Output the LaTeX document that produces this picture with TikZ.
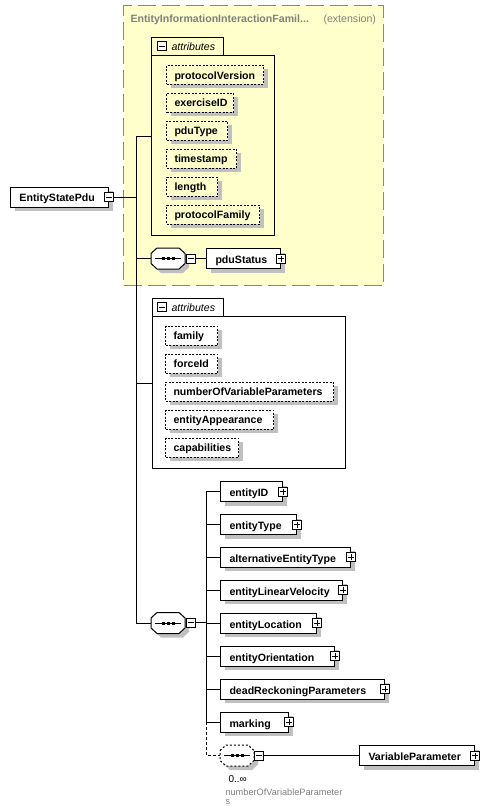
\documentclass[tikz,border=0pt]{standalone}
\usepackage{fontspec}
\setmainfont{Liberation Sans}
\usetikzlibrary{shadows}
\definecolor{extbg}{RGB}{255,255,204}
\definecolor{extborder}{RGB}{136,136,136}
\definecolor{shadowc}{RGB}{192,192,192}
\definecolor{graytext}{RGB}{128,128,128}
\newcommand\bx[2]{\makebox[#1pt][l]{\hspace{9pt}#2}}
\newcommand\ax[2]{\makebox[#1pt][l]{\hspace{8pt}#2}}
\tikzset{
  pics/seq/.style={code={
    \fill[shadowc] (-13,-1) -- (-7,-6.5) -- (15,-6.5) -- (21,-1) -- (21,9) -- (15,14.5) -- (-7,14.5) -- (-13,9) -- cycle;
    \draw[fill=white,#1] (-17,-5) -- (-11,-10.5) -- (11,-10.5) -- (17,-5) -- (17,5) -- (11,10.5) -- (-11,10.5) -- (-17,5) -- cycle;
    \draw[solid] (-13,0) -- (13,0);
    \foreach \d in {-5,0,5} {\fill (\d-1.5,-1.5) rectangle (\d+1.5,1.5);}
  }}
}
\begin{document}
\begin{tikzpicture}[x=1pt,y=-1pt,line width=1pt,
  every node/.style={inner sep=0pt},
  bf/.style={font=\fontsize{10.6}{12}\selectfont\bfseries},
  shadowed/.style={drop shadow={shadow xshift=4pt,shadow yshift=-4pt,fill=shadowc,opacity=1}},
  elem/.style={draw, fill=white, minimum height=20pt, anchor=west, shadowed, bf, text height=9.6pt, text depth=0pt},
  attr/.style={draw, dash pattern=on 2pt off 1.5pt, fill=#1, minimum height=19pt, anchor=west, shadowed, bf, text height=8.4pt, text depth=0pt},
  attr/.default=white,
  mbox/.style={draw, fill=white, minimum size=9pt, path picture={\draw[line width=1pt] ([xshift=-3pt]path picture bounding box.center) -- ([xshift=3pt]path picture bounding box.center);}},
  pbox/.style={draw, fill=white, minimum size=9pt, path picture={\draw[line width=1pt] ([xshift=-3pt]path picture bounding box.center) -- ([xshift=3pt]path picture bounding box.center) ([yshift=-3pt]path picture bounding box.center) -- ([yshift=3pt]path picture bounding box.center);}},
  seqnode/.style={minimum width=34pt, minimum height=21pt},
  ital/.style={font=\fontsize{10.6}{12}\selectfont\itshape},
]
\useasboundingbox[fill=white] (0,0) rectangle (503,806);

% extension area
\node[draw=extborder, fill=extbg, line width=1.2pt, dash pattern=on 18pt off 6pt, minimum width=260pt, minimum height=280pt, anchor=north west] (ext) at (123,5) {};
\node[anchor=base west, bf, text=graytext] (exttitle) at (130,22) {EntityInformationInteractionFamil...};
\node[anchor=base west, font=\fontsize{10.6}{12}\selectfont, text=graytext] (extlabel) at (323,22) {(extension)};

% attributes group 1
\node[draw, minimum width=123pt, minimum height=180pt, anchor=north west] (attr1) at (151,55) {};
\draw (attr1.north west) -- ++(0,-18) -- ++(72,0) -- ++(0,18);
\node[mbox] (attr1m) at (162,46) {};
\node[anchor=base west, ital] (attr1t) at (171,50) {attributes};
\node[attr=extbg] (pv) at (166,74.8) {\ax{97}{protocolVersion}};
\node[attr=extbg] (ex) at (166,102.5) {\ax{67}{exerciseID}};
\node[attr=extbg] (pt) at (166,130.5) {\ax{61}{pduType}};
\node[attr=extbg] (ts) at (166,158.5) {\ax{70}{timestamp}};
\node[attr=extbg] (ln) at (166,186.5) {\ax{51}{length}};
\node[attr=extbg] (pf) at (166,214.5) {\ax{93}{protocolFamily}};

% root
\node[elem] (esp) at (10,197) {\bx{98}{EntityStatePdu}};
\node[mbox] (espm) at (esp.east) {};

% sequence 1
\node[seqnode] (s1) at (168,258.5) {};
\pic at (s1) {seq=solid};
\node[mbox] (s1m) at (191,258.5) {};
\node[elem] (pdu) at (206,258.5) {\bx{74}{pduStatus}};
\node[pbox] (pdup) at (pdu.east) {};

% attributes group 2
\node[draw, minimum width=193pt, minimum height=152pt, anchor=north west] (attr2) at (152,316) {};
\draw (attr2.north west) -- ++(0,-18) -- ++(71,0) -- ++(0,18);
\node[mbox] (attr2m) at (162,307) {};
\node[anchor=base west, ital] (attr2t) at (171,311) {attributes};
\node[attr] (fa) at (165,335.5) {\ax{52}{family}};
\node[attr] (fo) at (165,363.5) {\ax{52}{forceId}};
\node[attr] (nv) at (165,391.5) {\ax{168}{numberOfVariableParameters}};
\node[attr] (ea) at (165,419.5) {\ax{108}{entityAppearance}};
\node[attr] (ca) at (165,447.5) {\ax{73}{capabilities}};

% sequence 2
\node[seqnode] (s2) at (168,623) {};
\pic at (s2) {seq=solid};
\node[mbox] (s2m) at (191,622.5) {};
\node[elem] (e1) at (220,491.7) {\bx{62}{entityID}};
\node[elem] (e2) at (220,524.5) {\bx{76}{entityType}};
\node[elem] (e3) at (220,557.4) {\bx{130}{alternativeEntityType}};
\node[elem] (e4) at (220,590.3) {\bx{122}{entityLinearVelocity}};
\node[elem] (e5) at (220,623.3) {\bx{96}{entityLocation}};
\node[elem] (e6) at (220,656.3) {\bx{114}{entityOrientation}};
\node[elem] (e7) at (220,689.3) {\bx{164}{deadReckoningParameters}};
\node[elem] (e8) at (220,722.4) {\bx{68}{marking}};
\foreach \n in {e1,e2,e3,e4,e5,e6,e7,e8} {\node[pbox] (\n p) at (\n.east) {};}

% sequence 3 (optional, repeated)
\node[seqnode] (s3) at (237,755.5) {};
\pic at (s3) {seq={dash pattern=on 2pt off 2pt}};
\node[mbox] (s3m) at (259,755.5) {};
\node[elem] (vp) at (359,755.5) {\bx{115}{VariableParameter}};
\node[pbox] (vpp) at (vp.east) {};
\node[anchor=base west, font=\fontsize{10}{12}\selectfont] (occ) at (228,782) {0..∞};
\node[anchor=base west, font=\fontsize{9.2}{11}\selectfont, text=graytext] (grp1) at (225,795) {numberOfVariableParameter};
\node[anchor=base west, font=\fontsize{9.2}{11}\selectfont, text=graytext] (grp2) at (225,804) {s};

% bus 1
\coordinate (j1) at (136,136);
\coordinate (j2) at (136,197);
\coordinate (j4) at (136,383);
\coordinate (j5) at (136,623);
\draw (j1) -- (j5);
\draw (espm.east) -- (j2);
\draw (j1) -- (j1 -| attr1.west);
\draw (s1.west -| j1) -- (s1.west);
\draw (s1m.east) -- (pdu.west);
\draw (j4) -- (j4 -| attr2.west);
\draw (j5) -- (s2.west);

% bus 2
\coordinate (k1) at (206,491.7);
\coordinate (km) at (206,722.4);
\coordinate (kd) at (206,755.5);
\draw (k1) -- (km);
\draw (s2m.east) -- (s2m.east -| k1);
\foreach \n in {e1,e2,e3,e4,e5,e6,e7,e8} {\draw (\n.west -| k1) -- (\n.west);}
\draw[dash pattern=on 3pt off 2pt] (km) -- (kd) -- (s3.west);
\draw (s3m.east) -- (vp.west);
\end{tikzpicture}
\end{document}
